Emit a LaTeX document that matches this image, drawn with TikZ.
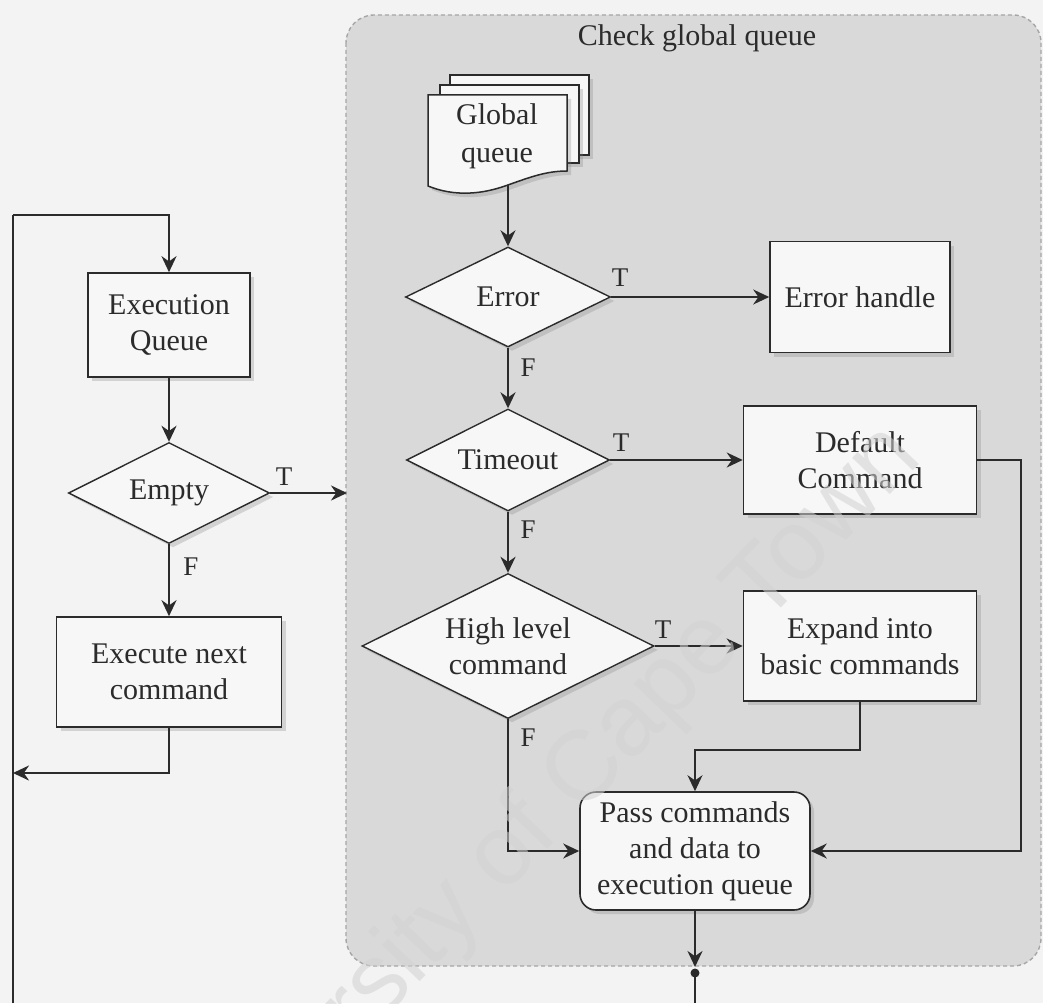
\documentclass[tikz,border=0pt]{standalone}
\usepackage{fontspec}
\setmainfont{Liberation Serif}
\newfontfamily\wmfont{Liberation Sans}
\usetikzlibrary{shapes.geometric,arrows.meta,shadows}

\definecolor{pagebg}{HTML}{F3F3F3}
\definecolor{panel}{HTML}{D9D9D9}
\definecolor{panelrim}{HTML}{A6A6A6}
\definecolor{ink}{HTML}{2B2B2B}
\definecolor{boxfill}{HTML}{F7F7F7}
\definecolor{wm}{HTML}{D2D2D2}

\tikzset{
  txt/.style={font=\fontsize{30}{36}\selectfont, align=center, text=ink},
  flag/.style={font=\fontsize{27}{30}\selectfont, text=ink},
  softshadow/.style={drop shadow={shadow xshift=4pt, shadow yshift=-4pt, opacity=.28}},
  box/.style={rectangle, draw=ink, line width=1.6pt, fill=boxfill, inner sep=0pt, txt, softshadow},
  roundbox/.style={box, rounded corners=16pt},
  decision/.style={diamond, aspect=2, draw=ink, line width=1.4pt, fill=boxfill, inner sep=0pt, txt, softshadow},
  docpage/.style={draw=ink, line width=1.5pt, fill=boxfill, softshadow},
  tip/.style={-{Stealth[length=16pt, width=15pt]}},
  lnthick/.style={draw=ink, line width=2.6pt},
  lnthin/.style={draw=ink, line width=1.6pt},
}

\begin{document}
\begin{tikzpicture}[x=1pt, y=-1pt]
\useasboundingbox (0,0) rectangle (1043,1003);
\clip (0,0) rectangle (1043,1003);
\fill[pagebg] (0,0) rectangle (1043,1003);

% shaded panel holding the global-queue check
\draw[panelrim, fill=panel, line width=1.4pt, dash pattern=on 4pt off 3pt,
      rounded corners=28pt] (346,15) rectangle (1041,966);
\node[txt] (title) at (697,38) {Check global queue};

% ---------- execution loop (left) ----------
\node[box, minimum width=162pt, minimum height=104pt] (eq) at (169,325) {Execution\\Queue};
\node[decision, minimum width=201pt, minimum height=101pt] (empty) at (169,493) {Empty};
\node[box, minimum width=225pt, minimum height=110pt] (exn) at (169,672) {Execute next\\command};

\coordinate (loopbot) at (13,1003);
\coordinate (looptop) at (13,215);
\coordinate (loopin)  at (169,215);
\coordinate (exnout)  at (169,773);
\coordinate (loopjoin) at (13,773);
\coordinate (gate)    at (347,493);

\draw[lnthin] (loopbot) -- (looptop);
\draw[lnthick, tip] (looptop) -- (loopin) -- (eq.north);
\draw[lnthick, tip] (eq.south) -- (empty.north);
\draw[lnthick, tip] (empty.east) -- (gate);
\draw[lnthick, tip] (empty.south) -- (exn.north);
\draw[lnthick, tip] (exn.south) -- (exnout) -- (loopjoin);

\node[flag] (emptyT) at (284,477) {T};
\node[flag] (emptyF) at (191,567) {F};

% ---------- global queue document stack ----------
\draw[docpage] (450,75) rectangle (589,155);
\draw[docpage] (440,85) rectangle (579,163);
\draw[docpage] (428,95) -- (567,95) -- (567,171)
   .. controls (545,171) and (528,178) .. (505,186)
   .. controls (482,194) and (455,197) .. (428,186) -- cycle;
\node[txt, font=\fontsize{30}{38}\selectfont] (gq) at (497,136) {Global\\queue};
\coordinate (gqout) at (508,185);

% ---------- decisions and actions (right) ----------
\node[decision, minimum width=205pt, minimum height=100pt] (err) at (508,297) {Error};
\node[box, minimum width=180pt, minimum height=111pt] (errh) at (860,297) {Error handle};
\node[decision, minimum width=203pt, minimum height=102pt] (tmo) at (508,460) {Timeout};
\node[box, minimum width=233pt, minimum height=108pt] (dflt) at (860,460) {Default\\Command};
\node[decision, minimum width=292pt, minimum height=145pt] (hl) at (508,646) {High level\\command};
\node[box, minimum width=233pt, minimum height=110pt] (exp) at (860,646) {Expand into\\basic commands};
\node[roundbox, minimum width=230pt, minimum height=118pt] (pass) at (695,851) {Pass commands\\and data to\\execution queue};

\coordinate (hlturn)  at (508,851);
\coordinate (expdown) at (860,750);
\coordinate (expleft) at (695,750);
\coordinate (dfltout) at (1021,460);
\coordinate (dfltdown) at (1021,851);
\coordinate (passend) at (695,967);
\coordinate (dot)     at (695,973);
\coordinate (exitbot) at (695,1003);

\draw[lnthin, tip] (gqout) -- (err.north);
\draw[lnthin, tip] (err.east) -- (errh.west);
\draw[lnthick, tip] (err.south) -- (tmo.north);
\draw[lnthin, tip] (tmo.east) -- (dflt.west);
\draw[lnthick, tip] (tmo.south) -- (hl.north);
\draw[lnthick, tip] (hl.east) -- (exp.west);
\draw[lnthin, tip] (hl.south) -- (hlturn) -- (pass.west);
\draw[lnthin, tip] (exp.south) -- (expdown) -- (expleft) -- (pass.north);
\draw[lnthin, tip] (dflt.east) -- (dfltout) -- (dfltdown) -- (pass.east);
\draw[lnthick, tip] (pass.south) -- (passend);
\draw[lnthin] (dot) -- (exitbot);
\fill[ink] (dot) circle (4.5pt);

\node[flag] (errT) at (620,278) {T};
\node[flag] (errF) at (528,368) {F};
\node[flag] (tmoT) at (621,443) {T};
\node[flag] (tmoF) at (528,530) {F};
\node[flag] (hlT)  at (663,630) {T};
\node[flag] (hlF)  at (528,738) {F};

% ---------- faint watermark across the lower part ----------
\node[font=\wmfont\fontsize{99}{99}\selectfont, text=wm, opacity=.55, rotate=46]
  (mark) at (535,826) {University of Cape Town};
\end{tikzpicture}
\end{document}
